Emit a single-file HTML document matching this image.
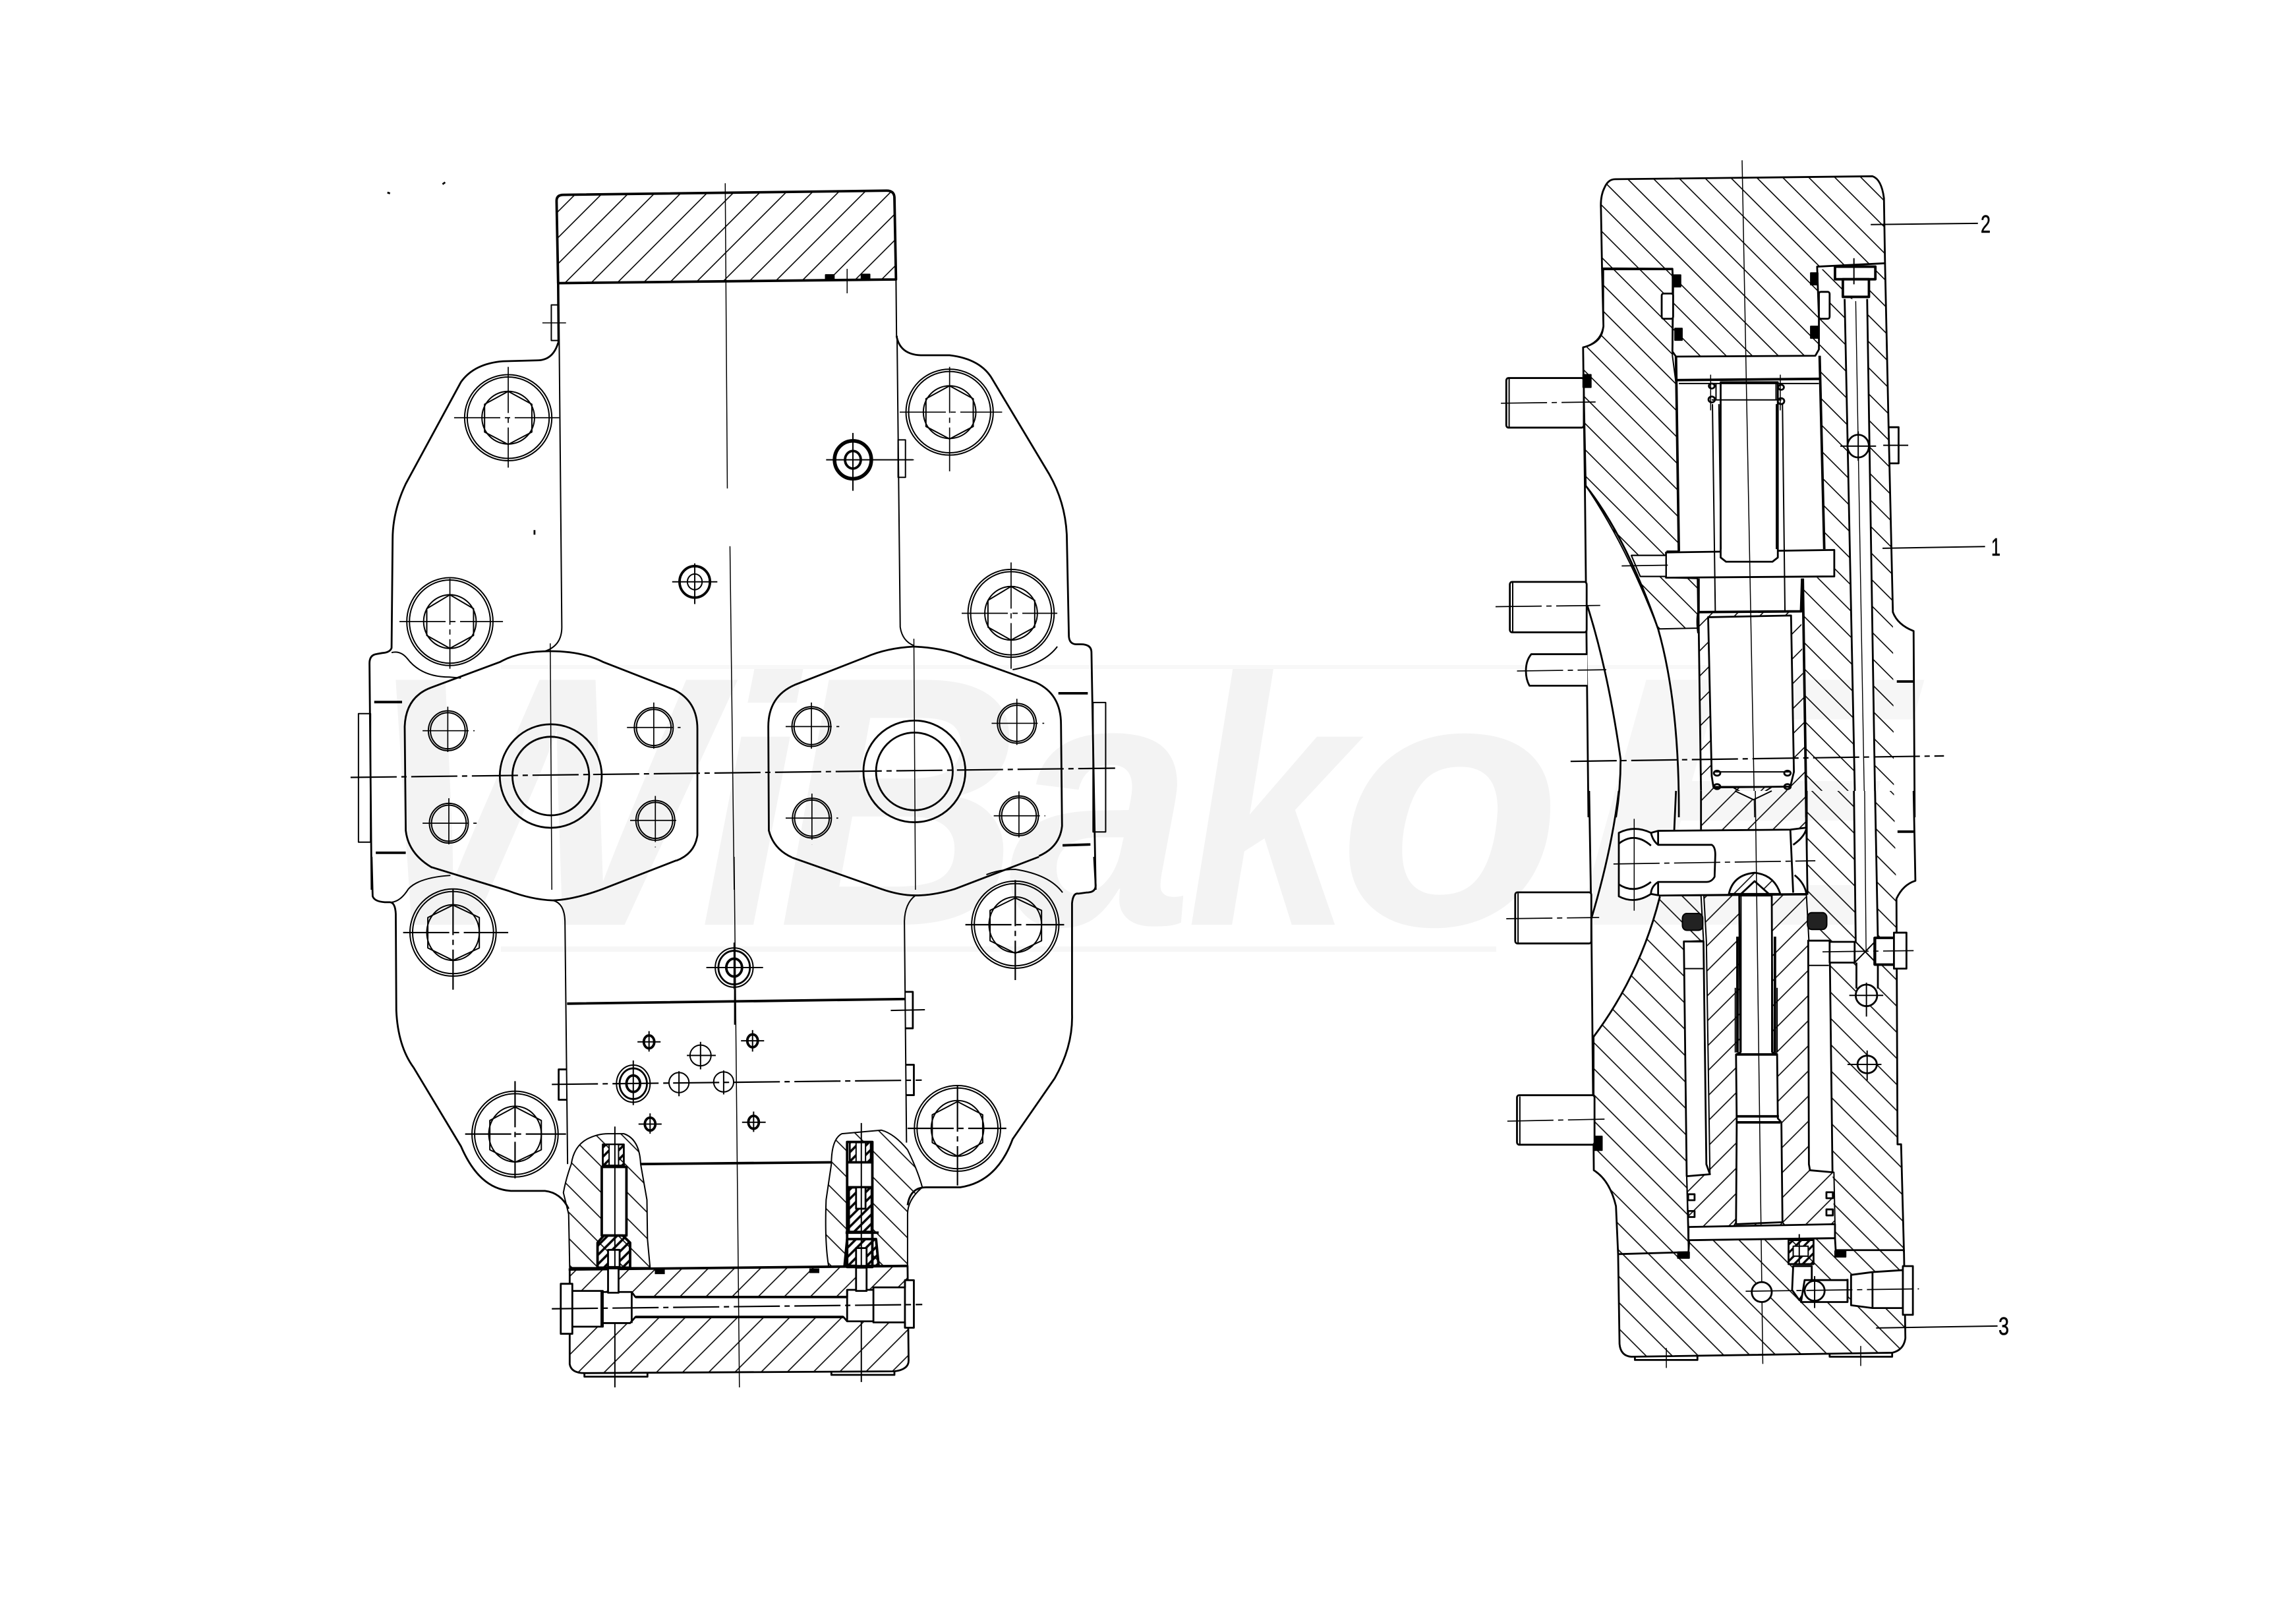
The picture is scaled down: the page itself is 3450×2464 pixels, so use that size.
<!DOCTYPE html>
<html><head><meta charset="utf-8"><style>
html,body{margin:0;padding:0;background:#fff;width:3450px;height:2464px;overflow:hidden}
svg{display:block}
.z *{vector-effect:non-scaling-stroke}
.z{fill:none;stroke:#000;stroke-width:2;stroke-linejoin:round}
.o{stroke-width:2.8}
.b{stroke-width:3.8}
.w{fill:#fff}
.k{fill:#000}
.c{stroke-width:1.7;stroke-dasharray:70 7 8 7}
.n{stroke:none}
text{font-family:"Liberation Sans",sans-serif}
</style></head><body>
<svg xmlns="http://www.w3.org/2000/svg" width="3450" height="2464" viewBox="0 0 3450 2464">
<defs>
<pattern id="a1" width="28" height="28" patternUnits="userSpaceOnUse" patternTransform="scale(1.2544,1.4255) translate(1.8,0) rotate(45)"><line x1="14" y1="0" x2="14" y2="28" stroke="#000" stroke-width="1.6"/></pattern>
<pattern id="a2" width="28" height="28" patternUnits="userSpaceOnUse" patternTransform="scale(1.2544,1.8447) translate(30.8,0) rotate(45)"><line x1="14" y1="0" x2="14" y2="28" stroke="#000" stroke-width="1.6"/></pattern>
<pattern id="b2" width="28" height="28" patternUnits="userSpaceOnUse" patternTransform="scale(1.2544,1.8447) translate(1.8,0) rotate(-45)"><line x1="14" y1="0" x2="14" y2="28" stroke="#000" stroke-width="1.6"/></pattern>
<pattern id="d2" width="10" height="10" patternUnits="userSpaceOnUse" patternTransform="scale(1.2544,1.8447) rotate(45)"><line x1="5" y1="0" x2="5" y2="10" stroke="#000" stroke-width="3.5"/></pattern>
<pattern id="b3" width="28" height="28" patternUnits="userSpaceOnUse" patternTransform="scale(1.8447,1.568) translate(9.6,0) rotate(-45)"><line x1="14" y1="0" x2="14" y2="28" stroke="#000" stroke-width="1.6"/></pattern>
<pattern id="a3" width="27" height="27" patternUnits="userSpaceOnUse" patternTransform="scale(1.8447,1.568) translate(26.1,0) rotate(45)"><line x1="13.5" y1="0" x2="13.5" y2="27" stroke="#000" stroke-width="1.6"/></pattern>
<pattern id="b4" width="28" height="28" patternUnits="userSpaceOnUse" patternTransform="scale(1.8447,1.6505) translate(4,0) rotate(-45)"><line x1="14" y1="0" x2="14" y2="28" stroke="#000" stroke-width="1.6"/></pattern>
<pattern id="a4" width="27" height="27" patternUnits="userSpaceOnUse" patternTransform="scale(1.8447,1.6505) translate(21.1,0) rotate(45)"><line x1="13.5" y1="0" x2="13.5" y2="27" stroke="#000" stroke-width="1.6"/></pattern>
<pattern id="d4" width="9" height="9" patternUnits="userSpaceOnUse" patternTransform="scale(1.8447,1.6505) rotate(45)"><line x1="4.5" y1="0" x2="4.5" y2="9" stroke="#000" stroke-width="3.2"/></pattern>
</defs>

<!-- watermark -->
<g font-size="540" font-weight="bold" font-style="italic" fill="#f3f3f3">
<text x="560" y="1403" textLength="520" lengthAdjust="spacingAndGlyphs">W</text>
<text x="1060" y="1403" textLength="150" lengthAdjust="spacingAndGlyphs">i</text>
<text x="1180" y="1403" textLength="370" lengthAdjust="spacingAndGlyphs">B</text>
<text x="1530" y="1403" textLength="280" lengthAdjust="spacingAndGlyphs">a</text>
<text x="1800" y="1403" textLength="250" lengthAdjust="spacingAndGlyphs">k</text>
<text x="2030" y="1403" textLength="340" lengthAdjust="spacingAndGlyphs">o</text>
<text x="2380" y="1403" textLength="520" lengthAdjust="spacingAndGlyphs" fill="#f6f6f6">E</text>
</g>
<rect x="760" y="1436" width="1510" height="8" fill="#f6f6f6"/>
<rect x="760" y="1009" width="1940" height="6" fill="#f8f8f8"/>

<!-- LEFT VIEW upper -->
<g class="z" transform="translate(500,250) scale(.79719,.70153)">
<path class="b" style="fill:url(#a1)" d="M432 78Q432 65 445 65L1060 56Q1074 56 1075 70L1078 248L435 256Z"/>
<path d="M434 256L435 385M436 256L442 1000Q442 1040 410 1052M1078 248L1079 370M1080 370L1086 1000Q1090 1030 1112 1040"/>
<path class="o" d="M435 385Q425 423 395 423L330 425Q275 430 250 470L145 690Q120 750 120 810L118 1045Q115 1055 100 1056L90 1058Q76 1060 76 1078L80 1568"/>
<path class="o" d="M1079 370Q1085 410 1125 412L1180 412Q1240 420 1262 465L1370 670Q1400 730 1403 800L1407 1020Q1408 1036 1420 1037L1430 1037Q1450 1037 1450 1055L1458 1568"/>
<path d="M118 1055Q135 1050 148 1068Q175 1108 228 1108L250 1110M1385 1042Q1360 1080 1300 1092"/>
<path class="o" d="M420 1052Q360 1052 325 1075L195 1130Q145 1150 143 1215L145 1440Q150 1490 195 1520"/>
<path class="o" d="M420 1052Q480 1052 520 1075L655 1135Q700 1160 700 1220L700 1450Q695 1490 660 1505"/>
<path class="o" d="M1112 1042Q1060 1045 1020 1065L885 1125Q835 1150 835 1215L836 1440Q845 1480 880 1498"/>
<path class="o" d="M1112 1042Q1170 1045 1210 1065L1345 1120Q1392 1145 1392 1210L1394 1430Q1390 1475 1350 1495"/>
<path d="M422 303H436V380H422ZM1082 595H1096V676H1082ZM55 1187H78V1465H55ZM1453 1163H1477V1443H1453Z"/>
<path class="b" d="M85 1162H138M88 1488H145M1387 1143H1443M1395 1472L1448 1470"/>
<!-- bolts -->
<ellipse cx="340" cy="547" rx="83" ry="93"/><ellipse cx="340" cy="547" rx="78" ry="88"/><ellipse cx="340" cy="547" rx="50" ry="57"/><path d="M340 490L385 518V578L340 605L295 578V518Z"/><path class="c" d="M237 547H437M340 437V655"/>
<ellipse cx="1180" cy="535" rx="83" ry="93"/><ellipse cx="1180" cy="535" rx="78" ry="88"/><ellipse cx="1180" cy="535" rx="50" ry="57"/><path d="M1180 478L1225 506V566L1180 593L1135 566V506Z"/><path class="c" d="M1085 535H1280M1180 437V663"/>
<ellipse cx="229" cy="988" rx="82" ry="95"/><ellipse cx="229" cy="988" rx="77" ry="90"/><ellipse cx="229" cy="988" rx="50" ry="58"/><path d="M229 930L274 960V1018L229 1046L185 1018V960Z"/><path class="c" d="M133 988H330M229 895V1090"/>
<ellipse cx="1297" cy="970" rx="82" ry="95"/><ellipse cx="1297" cy="970" rx="77" ry="90"/><ellipse cx="1297" cy="970" rx="50" ry="58"/><path d="M1297 912L1342 942V1000L1297 1028L1253 1000V942Z"/><path class="c" d="M1203 970H1385M1297 860V1090"/>
<!-- rings -->
<ellipse style="stroke-width:5.5" cx="996" cy="638" rx="35" ry="41"/><ellipse class="b" cx="996" cy="638" rx="15" ry="19"/><path d="M945 638H1110M996 580V705"/>
<ellipse class="b" cx="695" cy="902" rx="29" ry="34"/><ellipse cx="695" cy="902" rx="14" ry="17"/><path d="M652 902H738M695 862V950"/>
<!-- flange holes -->
<g><ellipse cx="225" cy="1224" rx="37" ry="43"/><ellipse cx="225" cy="1224" rx="33" ry="39"/><path class="c" d="M177 1224H276M225 1172V1270"/>
<ellipse cx="617" cy="1217" rx="37" ry="43"/><ellipse cx="617" cy="1217" rx="33" ry="39"/><path class="c" d="M566 1217H668M617 1163V1265"/>
<ellipse cx="227" cy="1424" rx="37" ry="43"/><ellipse cx="227" cy="1424" rx="33" ry="39"/><path class="c" d="M177 1424H280M227 1370V1478"/>
<ellipse cx="620" cy="1418" rx="37" ry="43"/><ellipse cx="620" cy="1418" rx="33" ry="39"/><path class="c" d="M572 1418H664M620 1365V1476"/>
<ellipse cx="917" cy="1215" rx="37" ry="43"/><ellipse cx="917" cy="1215" rx="33" ry="39"/><path class="c" d="M868 1215H970M917 1163V1268"/>
<ellipse cx="1308" cy="1208" rx="37" ry="43"/><ellipse cx="1308" cy="1208" rx="33" ry="39"/><path class="c" d="M1260 1208H1360M1308 1155V1260"/>
<ellipse cx="918" cy="1413" rx="37" ry="43"/><ellipse cx="918" cy="1413" rx="33" ry="39"/><path class="c" d="M868 1413H968M918 1360V1470"/>
<ellipse cx="1312" cy="1408" rx="37" ry="43"/><ellipse cx="1312" cy="1408" rx="33" ry="39"/><path class="c" d="M1264 1408H1362M1312 1355V1462"/></g>
<ellipse class="o" cx="421" cy="1322" rx="97" ry="112"/><ellipse class="o" cx="421" cy="1322" rx="73" ry="85"/>
<ellipse class="o" cx="1113" cy="1312" rx="97" ry="110"/><ellipse class="o" cx="1113" cy="1312" rx="73" ry="84"/>
<!-- centre lines -->
<path class="c" style="stroke-width:2.2" d="M40 1325L1495 1305"/>
<path style="stroke-width:1.5" d="M753 40L757 700M762 825L770 1568M420 1035L423 1568M1112 1025L1115 1568"/>
<path style="stroke-width:1.5" d="M985 225V278M405 342H450M1085 638H1112"/>
<rect class="k" x="944" y="238" width="16" height="10"/><rect class="k" x="1012" y="237" width="16" height="10"/>
<path class="o" d="M215 42L220 38M110 60L115 62M390 790V800"/>
</g>

<!-- LEFT VIEW lower -->
<g class="z" transform="translate(500,1300) scale(.79719,.54209)">
<path class="o" d="M194 29L340 95Q385 120 425 122Q465 120 520 90L660 10"/>
<path class="o" d="M880 2L1050 90Q1085 108 1115 108Q1150 108 1190 90L1350 0"/>
<path class="o" d="M80 0L82 110Q85 125 105 127L115 127Q125 128 126 160L127 430Q130 530 160 590L250 810Q285 930 345 935L410 935Q440 940 455 985"/>
<path class="o" d="M1100 975Q1105 925 1135 925L1200 925Q1270 910 1300 790L1380 620Q1415 530 1413 440L1413 130Q1415 100 1425 103L1440 100Q1458 100 1458 80L1455 0"/>
<path d="M118 127Q135 125 150 90Q170 58 230 52M1395 100Q1370 50 1305 35Q1275 35 1250 50M425 122Q447 130 448 180L453 860M1115 108Q1095 130 1094 180L1098 800"/>
<!-- bolts -->
<ellipse cx="235" cy="212" rx="82" ry="122"/><ellipse cx="235" cy="212" rx="77" ry="115"/><ellipse cx="235" cy="212" rx="50" ry="78"/><path d="M235 135L285 170V255L235 290L187 255V170Z"/><path class="c" style="stroke-width:2.2" d="M140 212H340M235 90V372"/>
<ellipse cx="1305" cy="190" rx="83" ry="122"/><ellipse cx="1305" cy="190" rx="78" ry="115"/><ellipse cx="1305" cy="190" rx="50" ry="78"/><path d="M1305 115L1355 150V235L1305 270L1257 235V150Z"/><path class="c" style="stroke-width:2.2" d="M1210 190H1398M1305 65V345"/>
<ellipse cx="353" cy="776" rx="82" ry="120"/><ellipse cx="353" cy="776" rx="77" ry="113"/><ellipse cx="353" cy="776" rx="50" ry="78"/><path d="M353 700L403 738V820L353 855L305 820V738Z"/><path class="c" style="stroke-width:2.2" d="M258 776H450M353 628V900"/>
<ellipse cx="1195" cy="760" rx="82" ry="120"/><ellipse cx="1195" cy="760" rx="77" ry="113"/><ellipse cx="1195" cy="760" rx="50" ry="78"/><path d="M1195 685L1243 722V800L1195 838L1147 800V722Z"/><path class="c" style="stroke-width:2.2" d="M1100 760H1288M1195 640V920"/>
<!-- rings -->
<ellipse cx="770" cy="310" rx="36" ry="55"/><ellipse class="o" cx="770" cy="310" rx="30" ry="47"/><ellipse class="b" cx="770" cy="310" rx="15" ry="25"/><path d="M717 310H825M770 240V370"/>
<ellipse cx="578" cy="635" rx="32" ry="52"/><ellipse class="o" cx="578" cy="635" rx="26" ry="43"/><ellipse class="b" cx="578" cy="635" rx="13" ry="23"/><path d="M578 570V695"/>
<path class="b" d="M452 411L1095 398M592 860L955 855"/>
<path class="o" d="M1095 378H1110V480H1095M1097 582H1112V667H1097M452 595H436V680H452"/>
<path d="M1068 430L1133 428M771 370V470"/>
<path class="c" style="stroke-width:2.2" d="M423 637L1127 625"/>
<g class="b"><ellipse cx="608" cy="518" rx="10" ry="18"/><ellipse cx="805" cy="515" rx="10" ry="18"/><ellipse cx="610" cy="748" rx="10" ry="18"/><ellipse cx="807" cy="743" rx="10" ry="18"/></g>
<path d="M586 518H630M608 488V545M783 515H827M805 485V545M588 748H632M610 718V775M785 743H830M807 713V770"/>
<ellipse cx="706" cy="556" rx="20" ry="29"/><ellipse cx="665" cy="632" rx="19" ry="28"/><ellipse cx="750" cy="630" rx="19" ry="28"/>
<path d="M680 556H735M706 518V595M665 600V670M750 598V665"/>
<!-- bosses -->
<path style="fill:url(#b2)" d="M457 1150L455 1000L445 940Q450 900 460 860Q465 810 490 790Q510 775 530 775L560 775Q590 790 592 860L604 960L605 1070L610 1150Z"/>
<path style="fill:url(#b2)" d="M950 1148Q942 1080 945 960L955 860Q955 790 975 775L1050 765Q1075 775 1100 820Q1120 880 1128 925Q1100 960 1100 1000L1100 1145Z"/>
<rect class="w b" x="518" y="868" width="47" height="192"/>
<path style="fill:url(#d2)" class="o" d="M520 805H560V865H520Z"/>
<rect class="w" x="532" y="805" width="18" height="60"/>
<path class="b" d="M520 865H562"/>
<path style="fill:url(#d2)" class="b" d="M522 1060H558L572 1080V1150H510V1080Z"/>
<rect class="w o" x="530" y="1100" width="22" height="48"/>
<path d="M543 755V1485"/>
<rect class="w b" x="985" y="798" width="48" height="350"/>
<path style="fill:url(#d2)" class="o" d="M990 798H1030V855H990Z"/>
<rect class="w" x="1002" y="800" width="18" height="54"/>
<path class="b" d="M985 855H1035"/>
<path style="fill:url(#d2)" class="b" d="M988 925H1032V1050H988Z"/>
<rect class="w o" x="1002" y="925" width="18" height="60"/>
<path class="b" d="M982 1052H1045"/>
<path style="fill:url(#d2)" class="b" d="M985 1070H1040L1045 1145H980Z"/>
<rect class="w o" x="1002" y="1095" width="20" height="50"/>
<path d="M1012 745V1470"/>
<!-- bottom block -->
<path class="o" style="fill:url(#a2)" d="M457 1155L1100 1145L1102 1410Q1102 1435 1075 1440L485 1445Q460 1445 457 1420Z"/>
<path class="b" d="M455 1155L1100 1145"/>
<path class="w o" d="M440 1195H462V1215H520L520 1218H575L582 1232H985V1212H1035V1205H1095V1185H1112V1318H1095V1303H1035V1300H985L978 1288H582L572 1305H520V1315H462V1335H440Z"/>
<path class="o" d="M462 1215V1315M520 1215V1315M575 1218V1305M985 1212V1300M1035 1205V1303M1095 1185V1318"/>
<path class="b" d="M582 1232H985M582 1288H978M518 1215V1315"/>
<rect class="w o" x="530" y="1152" width="20" height="68"/><rect class="w o" x="1002" y="1150" width="20" height="65"/>
<rect class="k n" x="619" y="1155" width="19" height="13"/><rect class="k n" x="913" y="1152" width="19" height="13"/>
<path class="o" d="M485 1445V1455H605V1445M955 1440V1450H1075V1440"/>
<path style="stroke-width:1.5" d="M770 0L780 1485"/>
<path class="c" style="stroke-width:2.2" d="M423 1265L1128 1253"/>
</g>

<!-- RIGHT VIEW upper -->
<g class="z" transform="translate(2250,240) scale(.54209,.63776)">
<path style="fill:url(#b3)" d="M337 265L530 265L530 470L540 535L548 935L515 935L515 998L600 1000L602 1118L490 1120Q400 920 288 780L280 450Q335 440 337 400Z"/>
<path class="n" style="fill:url(#b3)" d="M940 265L1125 255L1147 1080L1150 1505L905 1505L893 1000L983 995L983 932L955 930L942 530L942 470L940 380Z"/>
<path style="fill:url(#b3)" class="o" d="M340 70Q350 50 370 50L1090 43Q1115 50 1122 95L1125 250L935 258L940 380L940 455L930 470L540 472L530 460L532 310L530 263L333 262L330 120Q328 90 340 70Z"/>
<path class="n" style="fill:url(#a3)" d="M603 1080L890 1078L905 1505L610 1505Z"/>
<path class="o" d="M603 1080L610 1505"/>
<path class="w o" d="M630 1092L862 1088L870 1460L860 1495L645 1497L640 1470Z"/>
<path class="o" d="M333 262L337 400Q330 440 280 450L285 780L295 1568"/>
<path class="o" d="M1125 250L1135 640L1147 1080Q1160 1110 1205 1125L1208 1568"/>
<path class="o" d="M288 780Q400 900 490 1120Q550 1300 548 1568M292 1065Q350 1220 385 1430Q385 1500 372 1568"/>
<path class="b" d="M540 472L548 935M942 470L955 930M895 1000L905 1568"/>
<path class="w o" d="M512 938L983 932L983 995L512 998Z"/>
<path class="w" d="M415 945H512V995H440Z"/><path d="M415 945H512M440 995H512"/>
<path class="w o" d="M665 533H825V950L810 960H680L665 950Z"/>
<path class="b" d="M540 528L942 525M603 1000L603 1080L890 1078L893 1000M603 1080Q598 1100 603 1130"/>
<path d="M548 536H940"/>
<path d="M640 575H835M652 535V575M820 535V575M642 585L650 1080M660 585L666 930M821 585V930M838 585L845 1080"/>
<g class="o"><ellipse cx="640" cy="574" rx="9" ry="7"/><ellipse cx="834" cy="578" rx="9" ry="7"/><ellipse cx="640" cy="542" rx="8" ry="6"/><ellipse cx="834" cy="545" rx="8" ry="6"/></g>
<path d="M648 1460H858M648 1495H858M700 1497L755 1525L810 1495"/>
<g class="o"><ellipse cx="655" cy="1463" rx="9" ry="6"/><ellipse cx="852" cy="1463" rx="9" ry="6"/><ellipse cx="655" cy="1495" rx="9" ry="6"/><ellipse cx="852" cy="1495" rx="9" ry="6"/></g>
<rect class="k" x="533" y="278" width="20" height="28"/><rect class="k" x="537" y="405" width="20" height="28"/><rect class="k" x="917" y="273" width="20" height="28"/><rect class="k" x="917" y="400" width="20" height="28"/>
<rect class="w o" x="500" y="322" width="32" height="60" rx="5"/><rect class="w o" x="940" y="318" width="30" height="64" rx="5"/>
<path class="w n" d="M1012 335H1075L1098 1568H1042Z"/>
<path class="o" d="M1012 335L1042 1568M1075 335L1098 1568"/>
<path style="stroke-width:1.4" d="M1043 340L1068 1568"/>
<rect class="w b" x="985" y="258" width="113" height="30"/>
<path class="w b" d="M1007 288H1080V330H1007Z"/>
<ellipse class="w o" cx="1050" cy="685" rx="30" ry="27"/>
<path d="M1000 685H1100M1120 683H1190M1050 650V720M1038 238V300"/>
<path class="o" d="M1137 640H1163V726H1137"/>
<rect class="w o" x="65" y="523" width="217" height="118" rx="6"/><path d="M73 525V640"/>
<rect class="k" x="280" y="515" width="22" height="30"/>
<rect class="w o" x="75" y="1008" width="215" height="120" rx="6"/><path d="M83 1010V1128"/>
<path class="w o" d="M292 1180H135Q120 1195 120 1220Q120 1240 130 1255H292"/>
<path class="c" d="M50 583L315 580M35 1067L328 1064M95 1220L345 1217M388 970L530 968"/>
<path class="b" d="M1158 1245H1205"/>
<path style="stroke-width:1.5" d="M725 5L760 1568M637 515V600M832 515V600"/>
<path class="c" style="stroke-width:2.2" d="M245 1435L1290 1422"/>
<path d="M1085 158L1385 155M1118 928L1405 924"/>
</g>

<!-- RIGHT VIEW lower -->
<g class="z" transform="translate(2250,1200) scale(.54209,.60587)">
<path style="fill:url(#b4)" d="M495 262L610 262L617 375L562 377L570 965L575 1155L378 1160L372 1040Q355 975 310 950L310 615Q440 460 495 262Z"/>
<path class="n" style="fill:url(#b4)" d="M905 0L1150 0L1157 270L1160 885L1170 885L1178 1150L985 1150L978 955L970 375L910 375L905 260Z"/>
<path class="n" style="fill:url(#a4)" d="M610 0L905 0L905 95L610 97Z"/>
<path class="o" d="M610 0V97"/><path class="b" d="M905 0V260"/>
<path class="w n" d="M705 0L757 22L808 0Z"/><path d="M705 0L757 22L808 0"/>
<path style="fill:url(#a4)" d="M618 262L905 260L912 375L915 950L982 955L985 1085L575 1092L570 965L635 960L625 375Z"/>
<path class="o" style="fill:url(#b4)" d="M378 1160L575 1155L577 1125L985 1120L987 1150L1178 1150L1182 1370Q1178 1400 1145 1407L415 1417Q385 1415 382 1385Z"/>
<path class="o" d="M297 0L303 320L310 950Q355 975 372 1040L378 1160M1205 0L1210 225Q1175 235 1157 270L1160 885L1170 885L1178 1155"/>
<path class="o" d="M380 0Q360 150 303 320M540 0L535 100M495 265Q440 460 310 615"/>
<!-- rocker -->
<path class="w o" d="M490 100L860 97L905 92L908 258L495 262L470 258Q424 285 380 264L380 105Q424 85 470 105Z"/>
<path class="o" d="M470 105Q475 125 490 135L640 135Q650 140 650 160L648 215Q640 228 625 228L490 228Q470 240 470 258M860 97L868 255M380 132Q424 101 470 137M380 234Q424 260 470 228M490 100V135M490 228V262"/>
<path class="o" d="M868 135Q900 115 905 94M872 211Q900 231 905 258"/>
<path class="o" style="fill:url(#a4)" d="M688 258Q700 210 760 205Q815 210 832 258Z"/>
<path class="w o" d="M722 258L760 226L800 258Z"/>
<path class="c" d="M365 183L930 175"/><path style="stroke-width:1.5" d="M423 70V300"/>
<!-- seals -->
<rect x="558" y="307" width="57" height="42" rx="12" style="fill:#222"/><rect x="908" y="305" width="54" height="42" rx="12" style="fill:#222"/>
<!-- bore -->
<path class="w o" d="M717 262H808L810 655L823 660L825 820L835 830L838 1080L708 1085L710 830L708 660L720 655Z"/>
<path class="b" d="M708 660H825M710 815H828M710 830H832M712 365V655M817 365V655"/>
<path d="M722 262V655M808 262V655M706 493V655M823 493V655M708 1080L700 1092M838 1080L848 1092"/>
<path style="stroke-width:1.5" d="M762 0L783 1435"/>
<!-- side channels -->
<path class="w o" d="M562 377H617L625 935L635 960L570 965Z"/>
<path class="w o" d="M910 375H970L978 955L915 950L912 935Z"/>
<path d="M562 445H617M912 437H968"/>
<g class="o"><rect x="574" y="1010" width="18" height="15"/><rect x="574" y="1052" width="18" height="15"/><rect x="961" y="1005" width="18" height="15"/><rect x="961" y="1048" width="18" height="15"/></g>
<path class="w o" d="M575 1092L985 1085L985 1120L575 1125Z"/>
<rect class="k" x="545" y="1155" width="32" height="15"/><rect class="k" x="985" y="1152" width="30" height="15"/>
<path style="fill:url(#d4)" class="o" d="M855 1125H925V1185H855Z"/>
<rect class="w" x="868" y="1140" width="42" height="25"/>
<path class="w o" d="M868 1190H920V1225L885 1275L865 1250Z"/>
<ellipse class="w o" cx="780" cy="1255" rx="28" ry="25"/>
<path class="w o" d="M900 1225H1020V1280H890Z"/>
<ellipse class="w o" cx="928" cy="1252" rx="28" ry="25"/>
<path class="w o" d="M1030 1212L1090 1205L1175 1200V1295L1090 1295L1030 1288Z"/>
<path class="o" d="M1090 1205V1295M1020 1222V1280"/>
<rect class="w o" x="1175" y="1190" width="28" height="122"/>
<path class="c" d="M735 1253L1220 1247"/>
<path d="M885 1110V1185M928 1215V1295M1100 1345L1440 1340"/>
<path class="o" d="M425 1418V1425H600V1414M970 1410V1417H1145V1407"/>
<path style="stroke-width:1.5" d="M513 1395V1445M1057 1390V1440"/>
<!-- right bore -->
<path class="w n" d="M1038 0H1097L1105 370V500H1045L1043 378Z"/>
<path class="o" d="M1038 0L1043 378M1097 0L1105 370"/>
<path style="stroke-width:1.4" d="M1068 0L1072 400"/>
<path class="o" d="M1045 430V495M1105 430V495"/>
<path class="w o" d="M970 378H1040V430H970Z"/>
<path d="M1043 378L1105 435M1105 370L1040 430"/>
<ellipse class="w o" cx="1073" cy="512" rx="30" ry="27"/>
<path d="M1025 512H1120M1073 480V565"/>
<path class="o w" d="M1095 368H1150V435H1095Z"/>
<rect class="w o" x="1150" y="355" width="35" height="90"/>
<path class="c" d="M950 403L1205 400"/>
<path class="b" d="M1097 368V435M1095 368H1150M1095 435H1150"/>
<ellipse class="w o" cx="1075" cy="685" rx="27" ry="22"/>
<path d="M1020 685H1115M1075 650V725"/>
<path class="b" d="M1160 102H1205"/>
<!-- studs -->
<rect class="w o" x="90" y="254" width="213" height="128" rx="6"/><path d="M98 256V382"/>
<rect class="w o" x="95" y="762" width="217" height="124" rx="6"/><path d="M103 765V886"/>
<rect class="k" x="312" y="865" width="21" height="35"/>
<path class="c" d="M65 320L325 317M68 827L340 822"/>
</g>

<g fill="#000" stroke="#000" stroke-width=".6" font-size="38">
<text x="3005" y="353" textLength="15" lengthAdjust="spacingAndGlyphs">2</text>
<text x="3021" y="843" textLength="14" lengthAdjust="spacingAndGlyphs">1</text>
<text x="3032" y="2025" textLength="16" lengthAdjust="spacingAndGlyphs">3</text>
</g>
</svg>
</body></html>
